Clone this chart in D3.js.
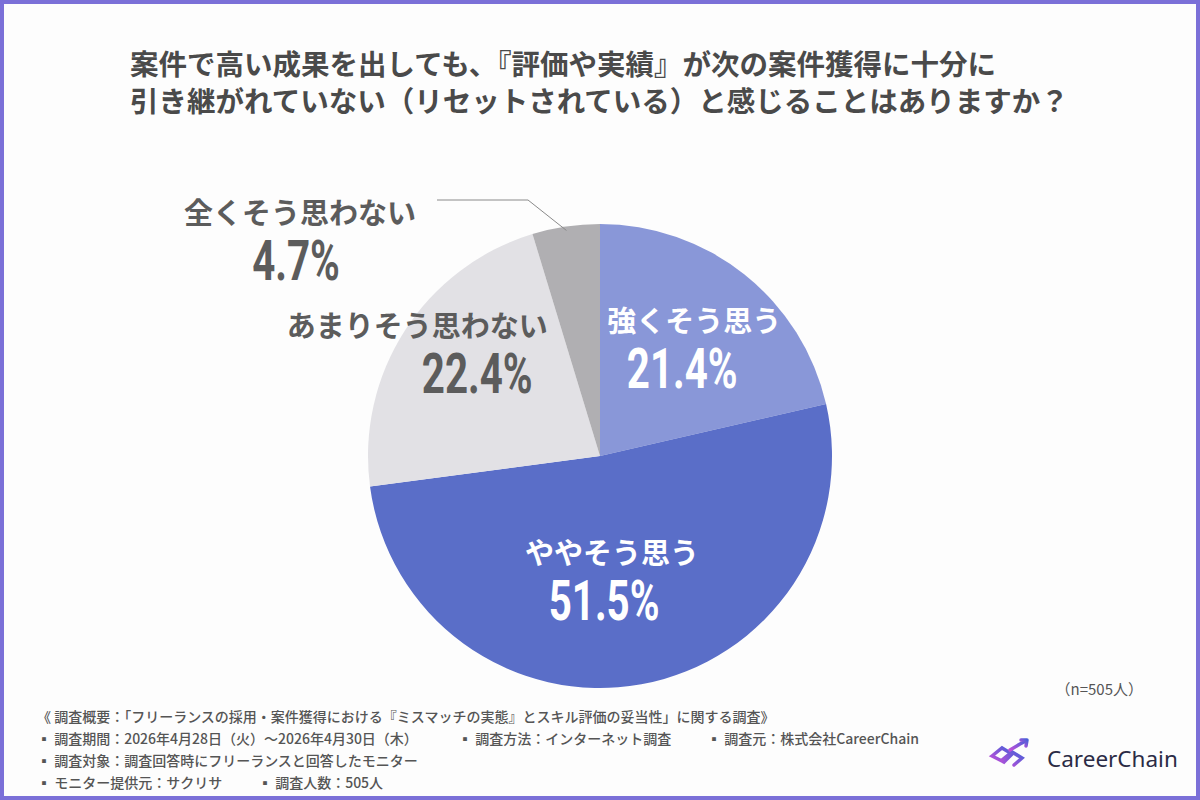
<!DOCTYPE html>
<html lang="ja">
<head>
<meta charset="UTF-8">
<title>評価や実績の引き継ぎ</title>
<script src="https://cdn.jsdelivr.net/npm/d3@7"></script>
<style>
  html, body { margin: 0; padding: 0; background: #fff; }
  svg { display: block; }
</style>
</head>
<body>
<svg id="chart" width="1200" height="800"></svg>
<script>
// data
var categories = ["強くそう思う", "ややそう思う", "あまりそう思わない", "全くそう思わない"];
var values = [21.4, 51.5, 22.4, 4.7];
var colors = ["#8997d8", "#5a6ec8", "#e2e1e5", "#b0afb2"];

var titleLines = [
  "案件で高い成果を出しても、『評価や実績』が次の案件獲得に十分に",
  "引き継がれていない（リセットされている）と感じることはありますか？"
];
var sampleNote = "（n=505人）";
var noteRows = [
  ["《 調査概要：「フリーランスの採用・案件獲得における『ミスマッチの実態』とスキル評価の妥当性」に関する調査》"],
  ["▪ 調査期間：2026年4月28日（火）〜2026年4月30日（木）", "▪ 調査方法：インターネット調査", "▪ 調査元：株式会社CareerChain"],
  ["▪ 調査対象：調査回答時にフリーランスと回答したモニター"],
  ["▪ モニター提供元：サクリサ", "▪ 調査人数：505人"]
];

var svg = d3.select("#chart");
var jp = "'Noto Sans CJK JP', 'Noto Sans', sans-serif";
var num = "Roboto, 'Noto Sans', sans-serif";

// frame
svg.append("rect").attr("x", 2).attr("y", 2).attr("width", 1196).attr("height", 796)
  .attr("fill", "#fdfdfd").attr("stroke", "#7b70d8").attr("stroke-width", 4);

// title
svg.selectAll("text.title").data(titleLines).enter().append("text")
  .attr("class", "title")
  .attr("x", 130)
  .attr("y", function(d, i) { return 75 + i * 37; })
  .attr("font-family", jp).attr("font-weight", 700).attr("font-size", 28.5)
  .attr("fill", "#4a4a4a")
  .text(function(d) { return d; });

// pie
var cx = 600, cy = 456, radius = 232;
var pie = d3.pie().sort(null).value(function(d) { return d; });
var arcs = pie(values);
var arc = d3.arc().innerRadius(0).outerRadius(radius);
var g = svg.append("g").attr("transform", "translate(" + cx + "," + cy + ")");

g.selectAll("path").data(arcs).enter().append("path")
  .attr("d", arc)
  .attr("fill", function(d, i) { return colors[i]; });

// label placement: radius along the slice's mid angle and a small nudge
var labelLayout = [
  { r: 140, dx: 7, dy: 0, pdx: -12, fill: "#ffffff" },
  { r: 124, dx: -10, dy: 0, pdx: -8, fill: "#ffffff" },
  { r: 190, dx: -23, dy: -2, pdx: 60, fill: "#5c5c5c" },
  { r: 0, dx: -300, dy: -218, pdx: -4, fill: "#5c5c5c" }
];

arcs.forEach(function(a, i) {
  var mid = (a.startAngle + a.endAngle) / 2;
  var L = labelLayout[i];
  var lx = Math.sin(mid) * L.r + L.dx;
  var ly = -Math.cos(mid) * L.r + L.dy;
  var lg = g.append("g").attr("transform", "translate(" + lx + "," + ly + ")");
  lg.append("text")
    .attr("y", -14)
    .attr("text-anchor", "middle")
    .attr("font-family", jp).attr("font-weight", 700).attr("font-size", 29)
    .attr("fill", L.fill)
    .text(categories[i]);
  lg.append("text")
    .attr("transform", "translate(" + L.pdx + ",42) scale(0.72,1)")
    .attr("text-anchor", "middle")
    .attr("font-family", num).attr("font-weight", 700).attr("font-size", 56)
    .attr("fill", L.fill)
    .text(d3.format(".1f")(values[i]) + "%");
});

// leader line for the smallest slice
var small = arcs[3];
var smid = (small.startAngle + small.endAngle) / 2;
var edge = [Math.sin(smid) * (radius - 4), -Math.cos(smid) * (radius - 4)];
g.append("path")
  .attr("d", d3.line()([[-163, -256], [-72, -256], edge]))
  .attr("fill", "none").attr("stroke", "#8a8a8a").attr("stroke-width", 1);

// sample size
svg.append("text")
  .attr("x", 1143).attr("y", 695).attr("text-anchor", "end")
  .attr("font-family", jp).attr("font-size", 15).attr("fill", "#555")
  .text(sampleNote);

// survey notes
var colX = [37, 458, 707];
var colX4 = [37, 258];
noteRows.forEach(function(row, r) {
  row.forEach(function(t, c) {
    svg.append("text")
      .attr("x", r === 3 ? colX4[c] : colX[c])
      .attr("y", 722 + r * 22)
      .attr("font-family", jp).attr("font-weight", 500).attr("font-size", 14)
      .attr("fill", "#555")
      .text(t);
  });
});

// logo
var defs = svg.append("defs");
var grad = defs.append("linearGradient").attr("id", "lg").attr("x1", "0").attr("x2", "1").attr("y1", "1").attr("y2", "0");
grad.append("stop").attr("offset", "0%").attr("stop-color", "#c04fd8");
grad.append("stop").attr("offset", "100%").attr("stop-color", "#4b5fd8");
var logo = svg.append("g").attr("transform", "translate(990,740)")
  .attr("fill", "none").attr("stroke", "url(#lg)").attr("stroke-width", 3.5).attr("stroke-linecap", "round");
logo.append("path").attr("d", "M2,16 L12,8 L22,14 L14,22 Z");
logo.append("path").attr("d", "M12,20 L22,12 L32,18 L24,25");
logo.append("path").attr("d", "M20,10 L30,4 L36,1");
logo.append("path").attr("d", "M31,0 L37,0 L36,6").attr("stroke-linejoin", "round");
svg.append("text")
  .attr("x", 1047).attr("y", 767)
  .attr("font-family", "'Noto Sans', sans-serif").attr("font-size", 22.5)
  .attr("fill", "#2b2b45")
  .text("CareerChain");
</script>
</body>
</html>
